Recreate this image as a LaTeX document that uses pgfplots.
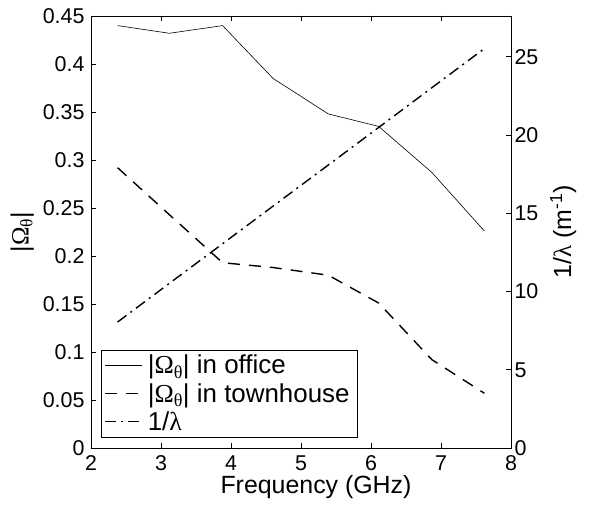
\documentclass[border=0pt]{standalone}
\usepackage{fontspec}
\setmainfont{Liberation Sans}
\newfontfamily\grk{Liberation Serif}
\usepackage{pgfplots}
\pgfplotsset{compat=1.18}
\pgfplotstableread{
f office town
2.38 0.440 0.292
3.12 0.432 0.243
3.88 0.440 0.193
4.60 0.385 0.188
5.39 0.348 0.180
6.11 0.335 0.151
6.87 0.287 0.092
7.62 0.226 0.057
}\omegadata
\pgfplotstableread{
f inv
2.38 8.05
3.12 10.52
3.88 13.05
4.60 15.45
5.39 18.08
6.11 20.48
6.87 23.02
7.62 25.52
}\lambdadata
\newcommand{\Om}{|{\grk Ω}\textsubscript{\grk θ}|}
\begin{document}
\begin{tikzpicture}
\pgfplotsset{
  common/.style={
    scale only axis, width=420bp, height=432bp,
    xmin=2, xmax=8,
    tick align=inside,
    major tick length=5bp,
    axis line style={line width=0.9bp},
    every tick/.style={line width=0.8bp,black},
    tick label style={font=\fontsize{21.5}{24}\selectfont},
    label style={font=\fontsize{25}{29}\selectfont},
    /pgf/number format/assume math mode=true,
  },
  lgd/.style={legend image code/.code={\draw[##1] (7bp,0bp) -- (44bp,0bp);}},
}
\begin{axis}[common,
  ymin=0, ymax=0.45,
  xtick={2,3,4,5,6,7,8},
  ytick={0,0.05,0.1,0.15,0.2,0.25,0.3,0.35,0.4,0.45},
  yticklabels={0,0.05,0.1,0.15,0.2,0.25,0.3,0.35,0.4,0.45},
  ytick pos=left,
  xticklabel style={yshift=-4bp},
  yticklabel style={xshift=-3bp},
  xlabel={Frequency (GHz)},
  ylabel={\Om},
  xlabel style={yshift=2bp, xshift=15bp},
  ylabel style={yshift=2bp},
]
\addplot[black, line width=0.6bp] table[x=f,y=office] {\omegadata};
\addplot[black, line width=1.4bp, dash pattern=on 12bp off 9bp] table[x=f,y=town] {\omegadata};
\end{axis}
\begin{axis}[common,
  axis y line*=right, axis x line=none,
  ymin=0, ymax=27.6,
  ytick={0,5,10,15,20,25},
  ylabel={1/{\grk λ} (m\textsuperscript{-1})},
  ylabel style={yshift=-5bp},
  lgd,
  legend cell align=left,
  legend style={at={(0.024,0.025)}, anchor=south west,
    font=\fontsize{26}{29}\selectfont, draw=black, line width=0.7bp,
    row sep=4bp, inner sep=3bp,
    nodes={inner xsep=5bp}},
]
\addlegendimage{black, line width=0.6bp}
\addlegendentry{\Om\ in office}
\addlegendimage{black, line width=1.4bp, dash pattern=on 12bp off 9bp}
\addlegendentry{\Om\ in townhouse}
\addplot[black, line width=1.4bp, dash pattern=on 11bp off 5bp on 2bp off 5bp] table[x=f,y=inv] {\lambdadata};
\addlegendentry{1/{\grk λ}}
\end{axis}
\pgfresetboundingbox
\path[use as bounding box] (-91bp,-58bp) rectangle (498bp,448bp);
\end{tikzpicture}
\end{document}
